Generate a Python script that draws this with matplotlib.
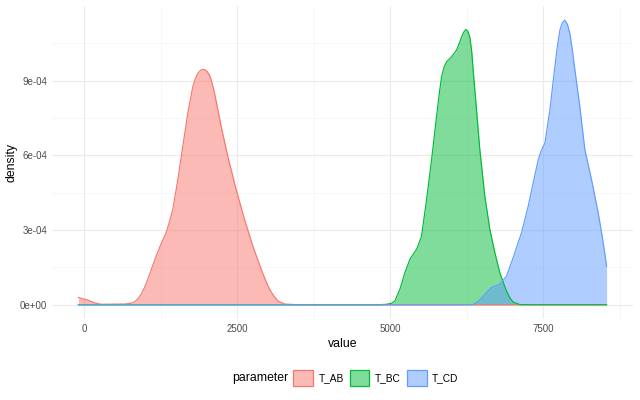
import numpy as np
import matplotlib
matplotlib.use("Agg")
import matplotlib.pyplot as plt
import matplotlib.ticker as ticker
from matplotlib.patches import Patch

plt.rcParams.update({"font.family": ["Liberation Sans", "DejaVu Sans"]})

# ── density curves ─────────────────────────────────────────────────────────────
ab_x = [-98, 54, 160, 273, 655, 760, 818, 875, 928, 980, 1036, 1100, 1172, 1250,
        1336, 1390, 1445, 1527, 1608, 1690, 1772, 1815, 1854, 1905, 1952, 2000,
        2045, 2085, 2127, 2180, 2236, 2345, 2481, 2618, 2754, 2890, 2960, 3027,
        3100, 3163, 3272, 3500, 8536]
ab_y = [2.9e-5, 1.9e-5, 8e-6, 2e-6, 3e-6, 6e-6, 1.1e-5, 2.4e-5, 4.2e-5, 6.8e-5,
        1.02e-4, 1.46e-4, 1.95e-4, 2.42e-4, 2.89e-4, 3.33e-4, 3.82e-4, 5.02e-4,
        6.35e-4, 7.69e-4, 8.75e-4, 9.08e-4, 9.29e-4, 9.42e-4, 9.45e-4, 9.38e-4,
        9.22e-4, 8.92e-4, 8.49e-4, 7.85e-4, 7.15e-4, 5.95e-4, 4.62e-4, 3.42e-4,
        2.35e-4, 1.42e-4, 9.9e-5, 6.2e-5, 3.4e-5, 1.5e-5, 3e-6, 0, 0]

bc_x = [-98, 4800, 4940, 5020, 5076, 5157, 5239, 5320, 5380, 5429, 5511, 5593,
        5675, 5756, 5800, 5838, 5880, 5920, 6001, 6083, 6125, 6165, 6200, 6235,
        6268, 6300, 6330, 6355, 6410, 6464, 6546, 6628, 6710, 6791, 6850, 6900,
        6960, 7009, 7118, 7300, 8536]
bc_y = [0, 0, 2e-6, 6e-6, 1.5e-5, 6.2e-5, 1.29e-4, 1.82e-4, 2.05e-4, 2.22e-4,
        2.75e-4, 4.22e-4, 5.82e-4, 7.55e-4, 8.45e-4, 9.15e-4, 9.55e-4, 9.75e-4,
        9.95e-4, 1.022e-3, 1.048e-3, 1.075e-3, 1.094e-3, 1.105e-3, 1.098e-3,
        1.075e-3, 1.02e-3, 9.42e-4, 7.82e-4, 6.22e-4, 4.35e-4, 3.02e-4, 2.09e-4,
        1.29e-4, 8.8e-5, 5.5e-5, 2.6e-5, 1.1e-5, 1e-6, 0, 0]

cd_x = [-98, 6200, 6355, 6440, 6518, 6590, 6654, 6720, 6790, 6900, 7009, 7145,
        7254, 7336, 7418, 7470, 7527, 7609, 7690, 7730, 7772, 7812, 7854, 7895,
        7936, 7975, 8018, 8099, 8181, 8290, 8399, 8481, 8536]
cd_y = [0, 0, 1e-6, 1.4e-5, 3.5e-5, 5.4e-5, 6.9e-5, 7.6e-5, 8.2e-5, 1.15e-4,
        1.89e-4, 2.89e-4, 3.95e-4, 4.89e-4, 5.82e-4, 6.2e-4, 6.49e-4, 7.82e-4,
        9.55e-4, 1.035e-3, 1.102e-3, 1.132e-3, 1.142e-3, 1.126e-3, 1.089e-3,
        1.025e-3, 9.42e-4, 7.95e-4, 6.22e-4, 5.02e-4, 3.69e-4, 2.49e-4, 1.55e-4]

labels = ["T_AB", "T_BC", "T_CD"]
colors = ["#F8766D", "#00BA38", "#619CFF"]
series = [(ab_x, ab_y), (bc_x, bc_y), (cd_x, cd_y)]

fig = plt.figure(figsize=(6.4, 4.0), dpi=100)
ax = fig.add_axes([52/640, 81/400, 581/640, 313/400])

for (xs, ys), c in zip(series, colors):
    ax.fill_between(xs, 0, ys, color=c, alpha=0.5, lw=0)
    ax.plot(xs, ys, color=c, lw=0.85, solid_joinstyle="round")

# ggplot-style 5% expansion
xmin = min(min(s[0]) for s in series); xmax = max(max(s[0]) for s in series)
ymax = max(max(s[1]) for s in series)
ax.set_xlim(xmin - 0.05*(xmax-xmin), xmax + 0.05*(xmax-xmin))
ax.set_ylim(-0.05*ymax, 1.05*ymax)

ax.xaxis.set_major_locator(ticker.MultipleLocator(2500))
ax.xaxis.set_minor_locator(ticker.MultipleLocator(1250))
ax.yaxis.set_major_locator(ticker.MultipleLocator(3e-4))
ax.yaxis.set_minor_locator(ticker.MultipleLocator(1.5e-4))
ax.yaxis.set_major_formatter(ticker.FuncFormatter(lambda v, p: f"{v:.0e}"))
ax.xaxis.set_major_formatter(ticker.FuncFormatter(lambda v, p: f"{v:.0f}"))

ax.grid(which="major", color="#EBEBEB", lw=0.85)
ax.grid(which="minor", color="#F3F3F3", lw=0.45)
ax.set_axisbelow(True)
for s in ax.spines.values():
    s.set_visible(False)
ax.tick_params(which="both", length=0, labelsize=7, labelcolor="#4D4D4D", pad=3.5)

ax.set_xlabel("value", fontsize=8.8, labelpad=3)
ax.set_ylabel("density", fontsize=8.8, labelpad=1.5)

handles = [Patch(facecolor=matplotlib.colors.to_rgba(c, 0.5), edgecolor=c, lw=0.9)
           for c in colors]
fig.text(288/640, 0.055, "parameter", ha="right", va="center", fontsize=8.8)
fig.legend(handles, labels, loc="center left", bbox_to_anchor=(293/640, 0.055),
           ncol=3, frameon=False, fontsize=7.3, handlelength=1.95, handleheight=1.95,
           handletextpad=0.55, columnspacing=0.6, borderpad=0, borderaxespad=0)

fig.savefig("out.png", dpi=100, facecolor="white")
